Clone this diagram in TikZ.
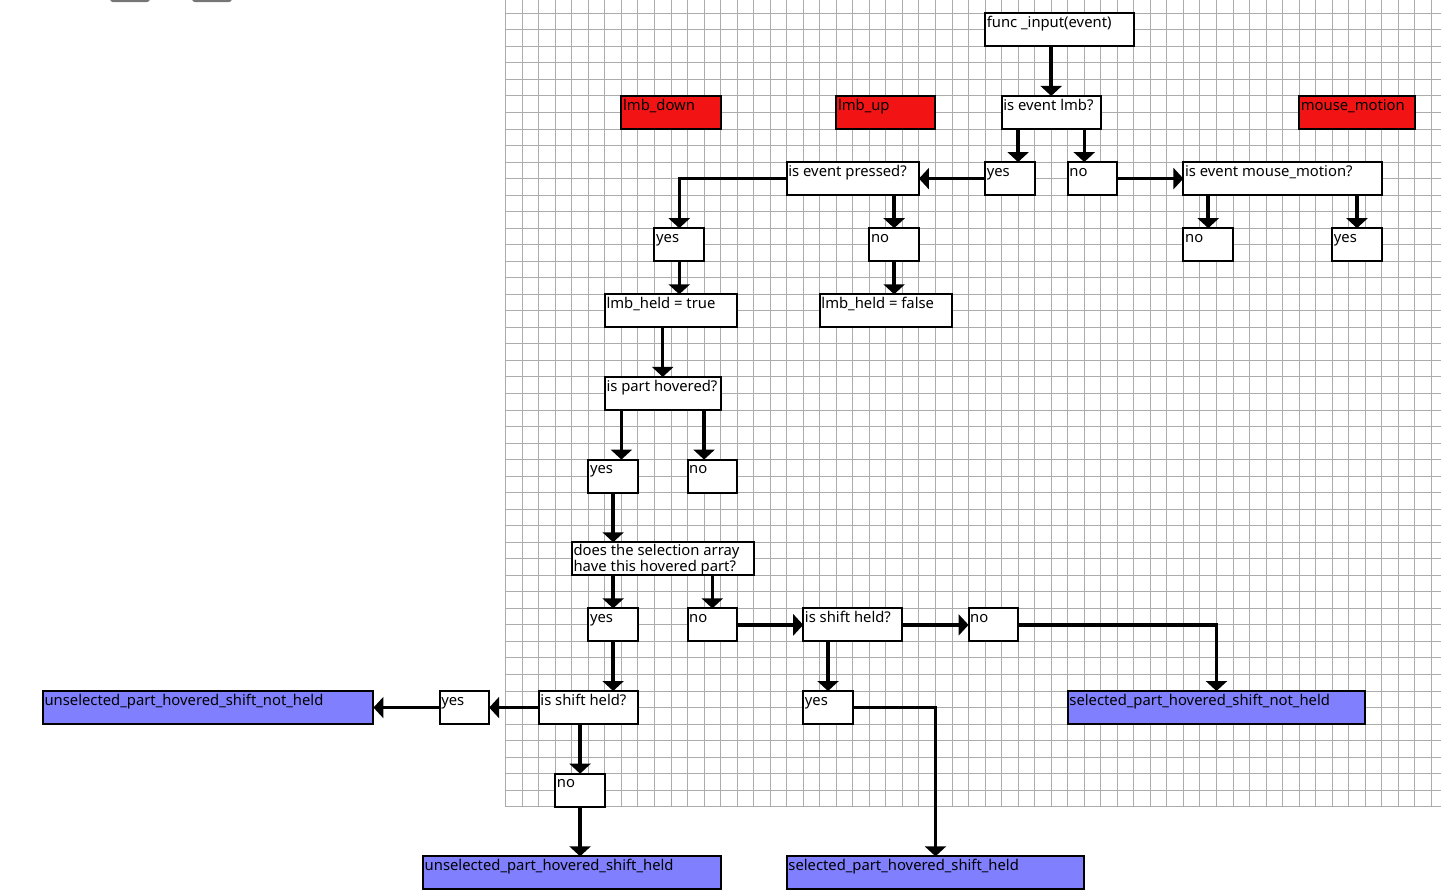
\documentclass[tikz,border=0pt]{standalone}
\usepackage{fontspec}
\setmainfont{Noto Sans}
\usetikzlibrary{arrows.meta}
\def\gs{16.53pt}
\definecolor{stopred}{RGB}{242,20,20}
\definecolor{outblue}{RGB}{128,128,255}
\definecolor{gridgray}{RGB}{172,172,172}
\definecolor{btngray}{RGB}{118,118,118}
\begin{document}
\begin{tikzpicture}[x=16.53pt,y=-16.53pt,
  box/.style={draw, line width=2pt, fill=white, rectangle, anchor=north west,
    outer sep=0pt, inner sep=0pt, minimum height=2*16.53pt},
  cells/.style={minimum width=#1*16.53pt},
  redbox/.style={box, fill=stopred},
  bluebox/.style={box, fill=outblue},
  txt/.style={anchor=north west, inner xsep=1.5pt, inner ysep=3pt,
    text height=11pt, text depth=3pt, font=\fontsize{14.8pt}{16pt}\selectfont},
  txttwo/.style={anchor=north west, inner xsep=1.5pt, inner ysep=2pt, align=left,
    font=\fontsize{14.8pt}{16pt}\selectfont},
  arr/.style={line width=3.5pt, -{Triangle[width=21pt,length=10pt]}},
  gridline/.style={gridgray, line width=1pt}
]
\useasboundingbox (-30.593,-0.8046) rectangle (56.582,53.097);

% toolbar buttons peeking in at the top edge
\fill[btngray, rounded corners=3pt] (-23.94,-3) rectangle (-21.52,-0.68);
\fill[btngray, rounded corners=3pt] (-18.98,-3) rectangle (-16.56,-0.68);

% background grid
\foreach \k in {0,...,56} \draw[gridline] (\k,-0.81) -- (\k,48);
\foreach \j in {0,...,48} \draw[gridline] (0,\j) -- (56.6,\j);

% boxes
\node[box, cells=9, label={[txt]north west:func \_input(event)}] (func) at (29,0) {};
\node[box, cells=6, label={[txt]north west:is event lmb?}] (lmb) at (30,5) {};
\node[redbox, cells=6, label={[txt]north west:lmb\_down}] (lmbdown) at (7,5) {};
\node[redbox, cells=6, label={[txt]north west:lmb\_up}] (lmbup) at (20,5) {};
\node[redbox, cells=7, label={[txt]north west:mouse\_motion}] (mmotion) at (48,5) {};

\node[box, cells=3, label={[txt]north west:yes}] (yesA) at (29,9) {};
\node[box, cells=3, label={[txt]north west:no}] (noA) at (34,9) {};
\node[box, cells=8, label={[txt]north west:is event pressed?}] (pressed) at (17,9) {};
\node[box, cells=12, label={[txt]north west:is event mouse\_motion?}] (ismm) at (41,9) {};

\node[box, cells=3, label={[txt]north west:yes}] (yesB) at (9,13) {};
\node[box, cells=3, label={[txt]north west:no}] (noB) at (22,13) {};
\node[box, cells=3, label={[txt]north west:no}] (noC) at (41,13) {};
\node[box, cells=3, label={[txt]north west:yes}] (yesC) at (50,13) {};

\node[box, cells=8, label={[txt]north west:lmb\_held = true}] (heldT) at (6,17) {};
\node[box, cells=8, label={[txt]north west:lmb\_held = false}] (heldF) at (19,17) {};

\node[box, cells=7, label={[txt]north west:is part hovered?}] (hovered) at (6,22) {};
\node[box, cells=3, label={[txt]north west:yes}] (yesD) at (5,27) {};
\node[box, cells=3, label={[txt]north west:no}] (noD) at (11,27) {};

\node[box, cells=11, label={[txttwo]north west:does the selection array\\have this hovered part?}] (selarr) at (4,32) {};
\node[box, cells=3, label={[txt]north west:yes}] (yesE) at (5,36) {};
\node[box, cells=3, label={[txt]north west:no}] (noE) at (11,36) {};
\node[box, cells=6, label={[txt]north west:is shift held?}] (shiftR) at (18,36) {};
\node[box, cells=3, label={[txt]north west:no}] (noF) at (28,36) {};

\node[box, cells=3, label={[txt]north west:yes}] (yesF) at (18,41) {};
\node[bluebox, cells=18, label={[txt]north west:selected\_part\_hovered\_shift\_not\_held}] (selNH) at (34,41) {};
\node[box, cells=6, label={[txt]north west:is shift held?}] (shiftL) at (2,41) {};
\node[box, cells=3, label={[txt]north west:yes}] (yesG) at (-4,41) {};
\node[bluebox, cells=20, label={[txt]north west:unselected\_part\_hovered\_shift\_not\_held}] (unselNH) at (-28,41) {};
\node[box, cells=3, label={[txt]north west:no}] (noG) at (3,46) {};

\node[bluebox, cells=18, label={[txt]north west:unselected\_part\_hovered\_shift\_held}] (unselH) at (-5,51) {};
\node[bluebox, cells=18, label={[txt]north west:selected\_part\_hovered\_shift\_held}] (selH) at (17,51) {};

% connectors
\draw[arr] (func.south -| lmb.north) -- (lmb.north);
\draw[arr] ([xshift=\gs]lmb.south west) coordinate (lmbY) -- (lmbY |- yesA.north);
\draw[arr] ([xshift=-\gs]lmb.south east) coordinate (lmbN) -- (lmbN |- noA.north);
\draw[arr] (yesA.west) -- (pressed.east);
\draw[arr] (noA.east) -- (ismm.west);
\draw[arr] (pressed.west) -| (yesB.north);
\draw[arr] (pressed.south -| noB.north) -- (noB.north);
\draw[arr] (ismm.south -| noC.north) -- (noC.north);
\draw[arr] (ismm.south -| yesC.north) -- (yesC.north);
\draw[arr] (yesB.south) -- (yesB.south |- heldT.north);
\draw[arr] (noB.south) -- (noB.south |- heldF.north);
\draw[arr] (heldT.south -| hovered.north) -- (hovered.north);
\draw[arr] ([xshift=\gs]hovered.south west) coordinate (hovY) -- (hovY |- yesD.north);
\draw[arr] ([xshift=-\gs]hovered.south east) coordinate (hovN) -- (hovN |- noD.north);
\draw[arr] (yesD.south) -- (yesD.south |- selarr.north);
\draw[arr] (selarr.south -| yesE.north) -- (yesE.north);
\draw[arr] (selarr.south -| noE.north) -- (noE.north);
\draw[arr] (noE.east) -- (shiftR.west);
\draw[arr] (shiftR.east) -- (noF.west);
\draw[arr] (noF.east) -| (selNH.north);
\draw[arr] (shiftR.south -| yesF.north) -- (yesF.north);
\draw[arr] (yesF.east) -| (selH.north);
\draw[arr] (yesE.south) -- (yesE.south |- shiftL.north);
\draw[arr] (shiftL.west) -- (yesG.east);
\draw[arr] (yesG.west) -- (unselNH.east);
\draw[arr] (shiftL.south -| noG.north) -- (noG.north);
\draw[arr] (noG.south) -- (noG.south |- unselH.north);
\end{tikzpicture}
\end{document}
